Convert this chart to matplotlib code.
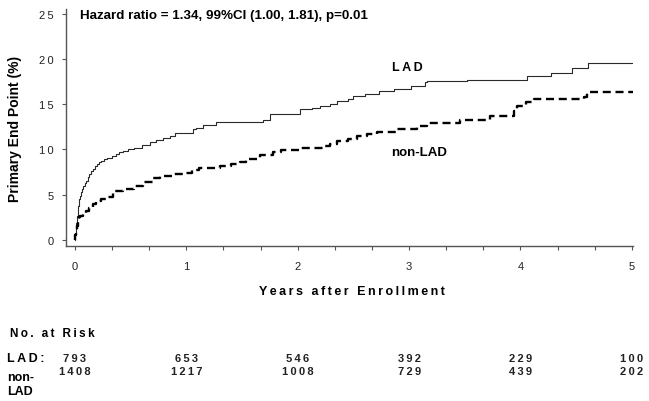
import matplotlib
matplotlib.use("Agg")
import matplotlib.pyplot as plt
import matplotlib.transforms as mtransforms

plt.rcParams['font.family'] = ['Liberation Sans', 'DejaVu Sans']

# ---- data ----
lad_t = [0, 0.004, 0.008, 0.012, 0.018, 0.024, 0.03, 0.035, 0.04, 0.047, 0.054,
         0.064, 0.075, 0.087, 0.10, 0.115, 0.13, 0.145, 0.16, 0.178, 0.195,
         0.212, 0.23, 0.26, 0.29, 0.33, 0.37, 0.40, 0.43, 0.48, 0.53, 0.60,
         0.67, 0.73, 0.79, 0.85, 0.90, 1.06, 1.09, 1.15, 1.27, 1.69, 1.75,
         2.02, 2.13, 2.20, 2.29, 2.35, 2.45, 2.50, 2.60, 2.73, 2.86, 3.02,
         3.14, 3.16, 3.52, 4.06, 4.27, 4.46, 4.61, 5.02]
lad_v = [0, 0.6, 1.2, 1.9, 2.7, 3.3, 3.8, 4.15, 4.5, 4.9, 5.25,
         5.6, 6.0, 6.3, 6.55, 6.95, 7.3, 7.6, 7.85, 8.15, 8.4,
         8.6, 8.75, 8.95, 9.1, 9.3, 9.5, 9.7, 9.85, 10.0, 10.2, 10.5,
         10.8, 11.0, 11.25, 11.5, 11.8, 12.2, 12.4, 12.7, 13.0, 13.2, 13.9,
         14.5, 14.6, 14.75, 15.0, 15.4, 15.6, 15.9, 16.1, 16.5, 16.7, 16.95,
         17.4, 17.5, 17.7, 18.1, 18.4, 18.95, 19.5, 19.5]

nonlad_t = [0, 0.005, 0.012, 0.018, 0.025, 0.033, 0.05, 0.07, 0.10, 0.13, 0.16,
            0.19, 0.23, 0.28, 0.34, 0.43, 0.53, 0.61, 0.70, 0.76, 0.88, 0.97,
            1.05, 1.11, 1.30, 1.40, 1.48, 1.54, 1.66, 1.78, 1.85, 2.02, 2.23,
            2.29, 2.35, 2.45, 2.53, 2.62, 2.71, 2.89, 3.07, 3.16, 3.46, 3.73,
            3.91, 3.94, 3.97, 4.05, 4.12, 4.57, 4.60, 5.02]
nonlad_v = [0, 0.6, 1.1, 1.6, 2.1, 2.5, 2.7, 2.85, 3.15, 3.5, 3.95,
            4.35, 4.5, 4.7, 5.45, 5.6, 6.0, 6.4, 6.8, 7.1, 7.3, 7.4,
            7.7, 8.0, 8.2, 8.4, 8.6, 8.9, 9.4, 9.7, 9.9, 10.15, 10.4,
            10.6, 10.95, 11.2, 11.5, 11.7, 11.9, 12.2, 12.6, 12.95, 13.25, 13.65,
            13.7, 14.2, 14.8, 15.2, 15.55, 15.75, 16.3, 16.3]

x_ticks = [0, 1, 2, 3, 4, 5]
y_ticks = [0, 5, 10, 15, 20, 25]
risk_lad = [793, 653, 546, 392, 229, 100]
risk_nonlad = [1408, 1217, 1008, 729, 439, 202]

TS = '\u2009'
def spaced(s, sep=TS):
    return sep.join(list(s))

W, H = 649, 402
fig = plt.figure(figsize=(W / 100, H / 100), dpi=100)
ax = fig.add_axes([66 / W, 1 - 247 / H, (633 - 66) / W, (247 - 10) / H])

ax.plot(lad_t, lad_v, drawstyle='steps-post', color='#2a2a2a', lw=0.8)
ax.plot(nonlad_t, nonlad_v, drawstyle='steps-post', color='black', lw=1.7,
        dashes=(3.4, 2.0))

ax.set_xlim(-0.08, 5.01)
ax.set_ylim(-0.66, 25.5)
for s in ['top', 'right']:
    ax.spines[s].set_visible(False)
for s in ['left', 'bottom']:
    ax.spines[s].set_color('#555555')
    ax.spines[s].set_linewidth(1.0)

ax.set_xticks(x_ticks)
ax.set_xticklabels([str(v) for v in x_ticks])
ax.set_xticks([i / 3 for i in range(16)], minor=True)
ax.set_yticks(y_ticks)
ax.set_yticklabels([spaced(str(v)) for v in y_ticks])
ax.tick_params(axis='both', which='both', direction='out', color='#555555',
               labelsize=8, labelcolor='#222222', width=0.8)
ax.tick_params(axis='x', which='both', length=3, pad=8)
ax.tick_params(axis='y', which='major', length=3, pad=6)

ax.set_ylabel('Primary End Point (%)', fontsize=10, fontweight='bold')
ax.yaxis.set_label_coords(-(66 - 22) / (633 - 66), 0.5)

def fx(px):
    return px / W

def fy(py):
    return 1 - py / H

fig.text(fx(80), fy(16), 'Hazard ratio = 1.34, 99%CI (1.00, 1.81), p=0.01',
         fontsize=9.6, fontweight='bold', va='center', ha='left')
fig.text(fx(392), fy(68), spaced('LAD'), fontsize=9, fontweight='bold',
         va='center', ha='left')
fig.text(fx(391), fy(153), 'non-LAD', fontsize=9.5, fontweight='bold',
         va='center', ha='left')
fig.text(fx(352), fy(292), spaced('Years after Enrollment'), fontsize=9,
         fontweight='bold', va='center', ha='center')

fig.text(fx(10), fy(334), spaced('No. at Risk'), fontsize=8.5,
         fontweight='bold', va='center', ha='left')
fig.text(fx(7), fy(359), spaced('LAD:'), fontsize=9, fontweight='bold',
         va='center', ha='left')
fig.text(fx(7), fy(378), 'non-', fontsize=9, fontweight='bold',
         va='center', ha='left')
fig.text(fx(7), fy(392), 'LAD', fontsize=9, fontweight='bold',
         va='center', ha='left')

trans = mtransforms.blended_transform_factory(ax.transData, fig.transFigure)
for x, a, b in zip(x_ticks, risk_lad, risk_nonlad):
    ax.text(x, fy(359), spaced(str(a)), transform=trans, fontsize=8,
            fontweight='bold', ha='center', va='center', color='#222222')
    ax.text(x, fy(372), spaced(str(b)), transform=trans, fontsize=8,
            fontweight='bold', ha='center', va='center', color='#222222')

fig.savefig('out.png', dpi=100)
